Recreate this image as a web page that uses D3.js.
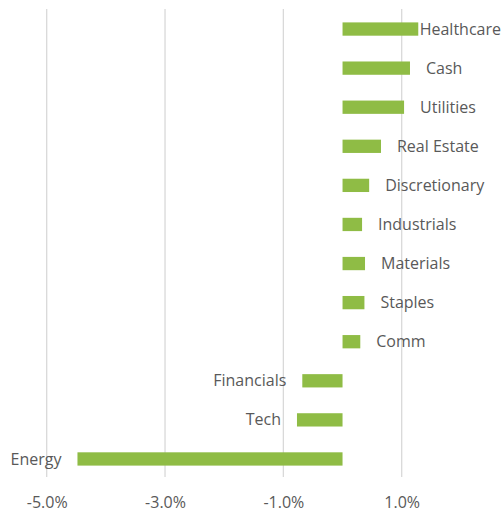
<!DOCTYPE html>
<html>
<head>
<meta charset="utf-8">
<script src="https://cdn.jsdelivr.net/npm/d3@7"></script>
<style>
  body { margin: 0; background: #fff; }
  text { font-family: "Open Sans", sans-serif; fill: #595959; }
</style>
</head>
<body>
<script>
  // sector weights vs benchmark, in %
  var sectors = ["Healthcare", "Cash", "Utilities", "Real Estate", "Discretionary",
                 "Industrials", "Materials", "Staples", "Comm", "Financials", "Tech", "Energy"];
  var values = [1.28, 1.14, 1.04, 0.65, 0.45, 0.33, 0.38, 0.37, 0.30, -0.68, -0.77, -4.48];
  var ticks = [-5, -3, -1, 1];

  var width = 501, height = 519;

  var x = d3.scaleLinear()
      .domain([-5, 1])
      .range([46.7, 401.7]);

  var y = d3.scaleBand()
      .domain(sectors)
      .range([9.5, 478.5])
      .paddingInner(0.66)
      .paddingOuter(0.33);

  var svg = d3.select("body").append("svg")
      .attr("width", width)
      .attr("height", height);

  // gridlines
  svg.append("g")
      .selectAll("line")
      .data(ticks)
      .enter().append("line")
      .attr("x1", function(d){ return x(d); })
      .attr("x2", function(d){ return x(d); })
      .attr("y1", 9)
      .attr("y2", 477)
      .attr("stroke", "#d9d9d9")
      .attr("stroke-width", 1.3);

  // x axis labels (plain hyphen, like the original)
  var xAxis = d3.axisBottom(x)
      .tickValues(ticks)
      .tickSize(0)
      .tickPadding(0)
      .tickFormat(function(d){ return d.toFixed(1) + "%"; });

  svg.append("g")
      .attr("transform", "translate(0,497)")
      .call(xAxis)
      .call(function(g){ g.select(".domain").remove(); })
      .selectAll("text")
      .style("font-size", "16px")
      .style("font-family", "'Open Sans', sans-serif")
      .attr("fill", "#595959");

  var data = sectors.map(function(s, i){ return {name: s, value: values[i]}; });

  // bars
  svg.append("g")
      .selectAll("rect")
      .data(data)
      .enter().append("rect")
      .attr("x", function(d){ return x(Math.min(0, d.value)); })
      .attr("width", function(d){ return Math.abs(x(d.value) - x(0)); })
      .attr("y", function(d){ return y(d.name); })
      .attr("height", y.bandwidth())
      .attr("fill", "#8fbc45");

  // labels next to bar ends
  var labels = svg.append("g")
      .selectAll("text")
      .data(data)
      .enter().append("text")
      .attr("y", function(d){ return y(d.name) + y.bandwidth() / 2; })
      .attr("dy", "0.35em")
      .style("font-size", "16px")
      .text(function(d){ return d.name; });

  labels.each(function(d){
      var t = d3.select(this);
      var w = this.getComputedTextLength();
      if (d.value >= 0) {
          var lx = x(d.value) + 16;
          if (lx + w > width) lx = width - w;
          t.attr("x", lx).attr("text-anchor", "start");
      } else {
          t.attr("x", x(d.value) - 16).attr("text-anchor", "end");
      }
  });
</script>
</body>
</html>
